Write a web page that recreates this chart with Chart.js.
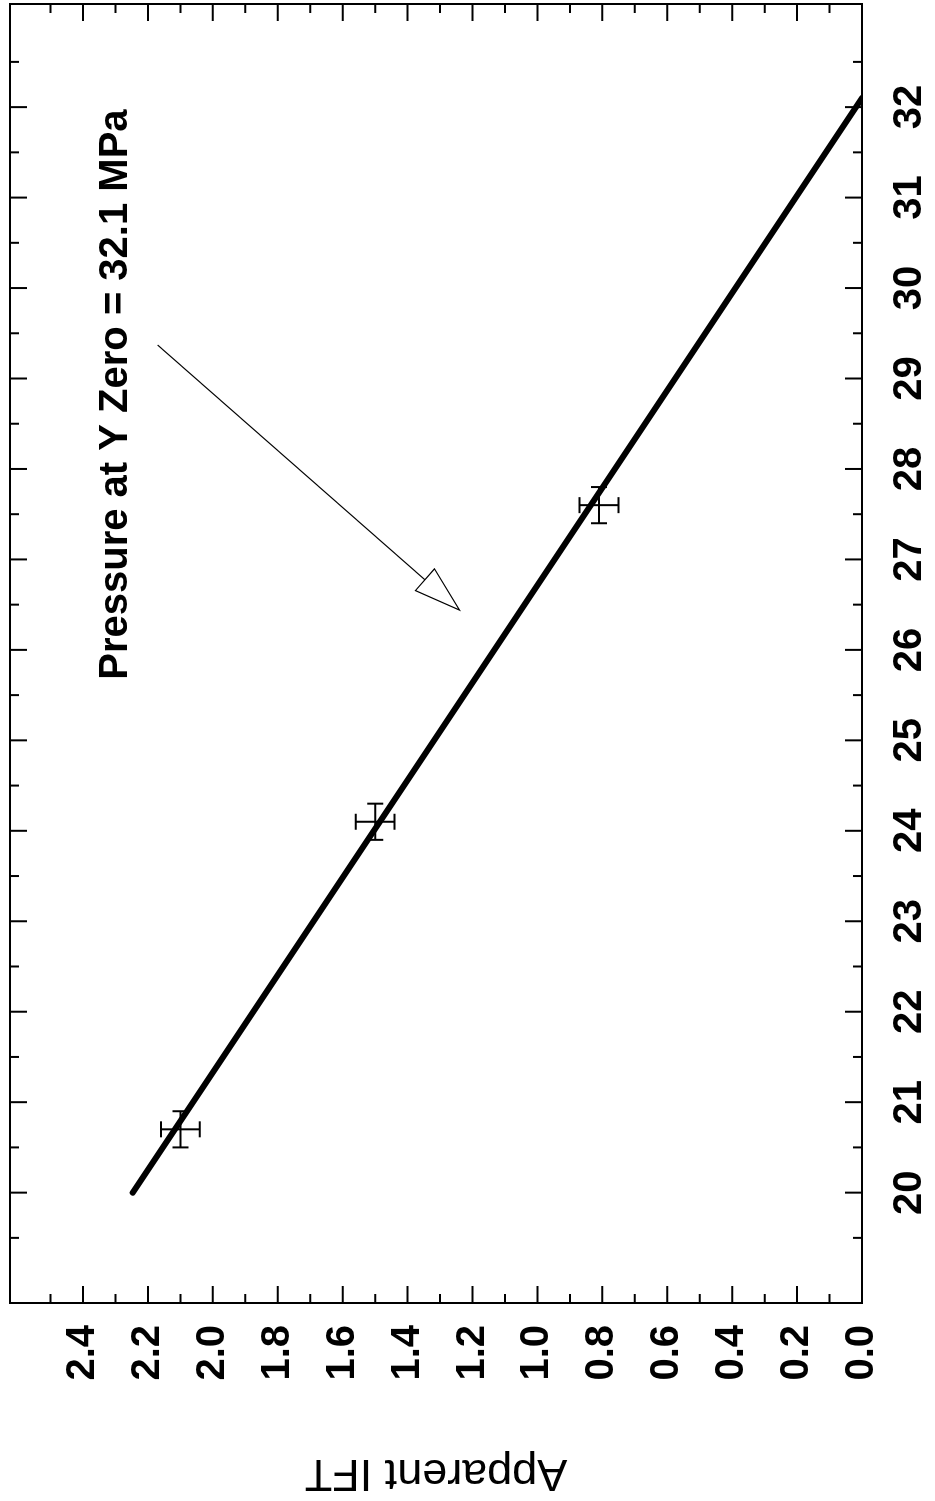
<!DOCTYPE html>
<html>
<head>
<meta charset="utf-8">
<script src="https://cdn.jsdelivr.net/npm/chart.js@4.4.1/dist/chart.umd.min.js"></script>
<style>
  html, body { margin: 0; padding: 0; background: #fff; overflow: hidden; }
  /* chart is drawn upright, then turned a quarter turn like the scanned page */
  #wrap {
    position: absolute; left: 0; top: 0;
    width: 1501px; height: 935px;
    transform-origin: 0 0;
    transform: translateY(1501px) rotate(-90deg);
  }
</style>
</head>
<body>
<div id="wrap"><canvas id="iftChart" width="1501" height="935"></canvas></div>
<script>
// DATA

const pressure = [20.7, 24.1, 27.6];
const ift = [2.10, 1.50, 0.81];
const pressureErr = [0.2, 0.2, 0.2];
const iftErr = [0.06, 0.06, 0.06];

const fitPressure = [20, 32.1];
const fitIft = [2.247, 0];

const pressureTicks = [20, 21, 22, 23, 24, 25, 26, 27, 28, 29, 30, 31, 32];
const pressureMinor = [19.5, 20.5, 21.5, 22.5, 23.5, 24.5, 25.5, 26.5, 27.5, 28.5, 29.5, 30.5, 31.5, 32.5];
const iftTicks = [0, 0.2, 0.4, 0.6, 0.8, 1.0, 1.2, 1.4, 1.6, 1.8, 2.0, 2.2, 2.4];
const iftMinor = [0.1, 0.3, 0.5, 0.7, 0.9, 1.1, 1.3, 1.5, 1.7, 1.9, 2.1, 2.3, 2.5];

const noteText = "Pressure at Y Zero = 32.1 MPa";

// STYLE

const FONT = '"Liberation Sans", Arial, Helvetica, sans-serif';
const note = { x: 25.67, y: 2.3, arrowFrom: [29.37, 2.17], arrowTo: [26.44, 1.24] };

// PLUGINS

// error bars in both directions, with caps
const errorBars = {
  id: "errorBars",
  afterDatasetsDraw(chart) {
    const { ctx, scales: { x, y } } = chart;
    const cap = 8;
    ctx.save();
    ctx.strokeStyle = "#000";
    ctx.lineWidth = 2;
    pressure.forEach((p, i) => {
      const cx = x.getPixelForValue(p);
      const cy = y.getPixelForValue(ift[i]);
      const x0 = x.getPixelForValue(p - pressureErr[i]);
      const x1 = x.getPixelForValue(p + pressureErr[i]);
      const y0 = y.getPixelForValue(ift[i] - iftErr[i]);
      const y1 = y.getPixelForValue(ift[i] + iftErr[i]);
      ctx.beginPath();
      ctx.moveTo(x0, cy); ctx.lineTo(x1, cy);
      ctx.moveTo(x0, cy - cap); ctx.lineTo(x0, cy + cap);
      ctx.moveTo(x1, cy - cap); ctx.lineTo(x1, cy + cap);
      ctx.moveTo(cx, y0); ctx.lineTo(cx, y1);
      ctx.moveTo(cx - cap, y0); ctx.lineTo(cx + cap, y0);
      ctx.moveTo(cx - cap, y1); ctx.lineTo(cx + cap, y1);
      ctx.stroke();
    });
    ctx.restore();
  }
};

// box frame with inward ticks on all four sides
const frameTicks = {
  id: "frameTicks",
  afterDraw(chart) {
    const { ctx, chartArea: a, scales: { x, y } } = chart;
    ctx.save();
    ctx.strokeStyle = "#000";
    ctx.lineWidth = 2;
    ctx.strokeRect(a.left, a.top, a.right - a.left, a.bottom - a.top);

    const xTicks = (vals, len) => vals.forEach(v => {
      const px = x.getPixelForValue(v);
      ctx.beginPath();
      ctx.moveTo(px, a.bottom); ctx.lineTo(px, a.bottom - len);
      ctx.moveTo(px, a.top); ctx.lineTo(px, a.top + len);
      ctx.stroke();
    });
    const yTicks = (vals, len) => vals.forEach(v => {
      const py = y.getPixelForValue(v);
      ctx.beginPath();
      ctx.moveTo(a.left, py); ctx.lineTo(a.left + len, py);
      ctx.moveTo(a.right, py); ctx.lineTo(a.right - len, py);
      ctx.stroke();
    });
    xTicks(pressureTicks, 17);
    xTicks(pressureMinor, 9);
    yTicks(iftTicks, 17);
    yTicks(iftMinor, 9);
    ctx.restore();
  }
};

// text note with open-headed arrow
const noteArrow = {
  id: "noteArrow",
  afterDraw(chart) {
    const { ctx, scales: { x, y } } = chart;
    ctx.save();
    ctx.fillStyle = "#000";
    ctx.font = "bold 40px " + FONT;
    ctx.textAlign = "left";
    ctx.textBaseline = "middle";
    ctx.fillText(noteText, x.getPixelForValue(note.x), y.getPixelForValue(note.y));

    const sx = x.getPixelForValue(note.arrowFrom[0]);
    const sy = y.getPixelForValue(note.arrowFrom[1]);
    const tx = x.getPixelForValue(note.arrowTo[0]);
    const ty = y.getPixelForValue(note.arrowTo[1]);
    const len = Math.hypot(sx - tx, sy - ty);
    const ux = (sx - tx) / len, uy = (sy - ty) / len;
    const headLen = 46, half = 14.5;
    const bx = tx + ux * headLen, by = ty + uy * headLen;

    ctx.strokeStyle = "#000";
    ctx.lineWidth = 1.2;
    ctx.beginPath();
    ctx.moveTo(sx, sy); ctx.lineTo(bx, by);
    ctx.stroke();
    ctx.beginPath();
    ctx.moveTo(tx, ty);
    ctx.lineTo(bx - uy * half, by + ux * half);
    ctx.lineTo(bx + uy * half, by - ux * half);
    ctx.closePath();
    ctx.stroke();
    ctx.restore();
  }
};

// CHART

new Chart(document.getElementById("iftChart"), {
  type: "scatter",
  data: {
    datasets: [
      {
        label: "Fit",
        data: fitPressure.map((p, i) => ({ x: p, y: fitIft[i] })),
        showLine: true,
        borderColor: "#000",
        borderWidth: 6,
        pointRadius: 0,
        borderCapStyle: "round"
      },
      {
        label: "Measured",
        data: pressure.map((p, i) => ({ x: p, y: ift[i] })),
        pointRadius: 0
      }
    ]
  },
  options: {
    responsive: false,
    animation: false,
    devicePixelRatio: 1,
    layout: { padding: { top: 10, right: 4, left: 0, bottom: 0 } },
    plugins: { legend: { display: false }, tooltip: { enabled: false } },
    scales: {
      x: {
        type: "linear",
        min: 18.78,
        max: 33.14,
        afterBuildTicks: s => { s.ticks = pressureTicks.map(v => ({ value: v })); },
        afterFit: s => { s.height = 73; s.paddingLeft = 0; s.paddingRight = 0; },
        grid: { display: false, drawTicks: false },
        border: { display: false },
        ticks: {
          color: "#000",
          font: { family: FONT, size: 40, weight: "bold" },
          padding: 24,
          maxRotation: 0,
          autoSkip: false
        }
      },
      y: {
        type: "linear",
        min: 0,
        max: 2.625,
        afterBuildTicks: s => { s.ticks = iftTicks.map(v => ({ value: v })); },
        afterFit: s => { s.width = 198; s.paddingTop = 0; s.paddingBottom = 0; },
        grid: { display: false, drawTicks: false },
        border: { display: false },
        ticks: {
          color: "#000",
          font: { family: FONT, size: 40, weight: "bold" },
          padding: 22,
          autoSkip: false,
          callback: v => Number(v).toFixed(1)
        },
        title: {
          display: true,
          text: "Apparent IFT",
          color: "#000",
          font: { family: FONT, size: 45 },
          padding: { top: 2, bottom: 0 }
        }
      }
    }
  },
  plugins: [errorBars, frameTicks, noteArrow]
});
</script>
</body>
</html>
